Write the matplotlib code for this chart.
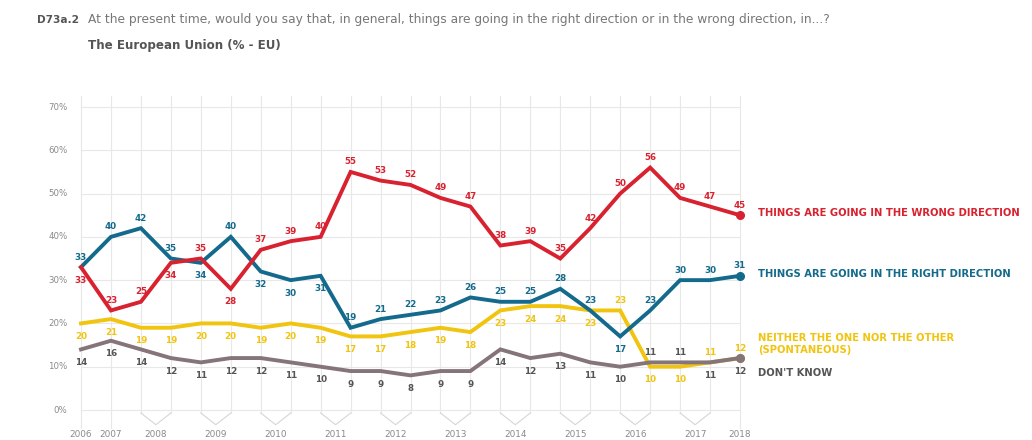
import matplotlib
matplotlib.use("Agg")
import matplotlib.pyplot as plt

# ---------------- data ----------------
years = ["2006", "2007", "2008", "2009", "2010", "2011", "2012",
         "2013", "2014", "2015", "2016", "2017", "2018"]
# survey waves (two per year from 2008 to 2017)
wrong = [33, 23, 25, 34, 35, 28, 37, 39, 40, 55, 53, 52, 49, 47, 38, 39, 35, 42, 50, 56, 49, 47, 45]
right = [33, 40, 42, 35, 34, 40, 32, 30, 31, 19, 21, 22, 23, 26, 25, 25, 28, 23, 17, 23, 30, 30, 31]
neither = [20, 21, 19, 19, 20, 20, 19, 20, 19, 17, 17, 18, 19, 18, 23, 24, 24, 23, 23, 10, 10, 11, 12]
dontknow = [14, 16, 14, 12, 11, 12, 12, 11, 10, 9, 9, 8, 9, 9, 14, 12, 13, 11, 10, 11, 11, 11, 12]

# label positions: 1 = above, -1 = below
wrong_pos = [-1, 1, 1, -1, 1, -1] + [1] * 17
right_pos = [1, 1, 1, 1, -1, 1, -1, -1, -1] + [1] * 9 + [-1] + [1] * 4
neither_pos = [-1] * 18 + [1, -1, -1, 1, 1]
dontknow_pos = [-1] * 19 + [1, 1, -1, -1]

series_names = ["THINGS ARE GOING IN THE WRONG DIRECTION",
                "THINGS ARE GOING IN THE RIGHT DIRECTION",
                "NEITHER THE ONE NOR THE OTHER\n(SPONTANEOUS)",
                "DON'T KNOW"]
yticks = [0, 10, 20, 30, 40, 50, 60, 70]

RED = "#d8222f"
BLUE = "#136a8c"
YEL = "#f1c40f"
GREY = "#857479"
GREYTXT = "#555555"

W, H = 1032, 440
fig = plt.figure(figsize=(W / 100, H / 100), dpi=100)
fig.patch.set_facecolor("white")

x0px, x1px = 81, 740
y0px, y1px = 410, 107
ax = fig.add_axes([x0px / W, (H - y0px) / H, (x1px - x0px) / W, (y0px - y1px) / H])
n = len(wrong)
xs = list(range(n))
ax.set_xlim(0, n - 1)
ax.set_ylim(0, 70)
for s in ax.spines.values():
    s.set_visible(False)
ax.set_xticks([])
ax.set_yticks([])

GRID = "#e8e8e8"
# horizontal gridlines
for t in yticks:
    ax.plot([0, n - 1], [t, t], color=GRID, lw=0.8, zorder=0, clip_on=False)
    ax.text(-0.45, t, f"{t}%", ha="right", va="center", fontsize=6.2, color="#8a8a8a")

# vertical gridlines
for i in xs:
    bottom = -4.2 if i in (0, 1, n - 1) else -0.7
    ax.plot([i, i], [bottom, 72.5], color=GRID, lw=0.8, zorder=0, clip_on=False)

# V brackets + year labels
year_x = [0, 1]
for k in range(10):
    a = 2 + 2 * k
    ax.plot([a, a + 0.5, a + 1], [-0.7, -3.4, -0.7], color="#d6d6d6", lw=0.8, clip_on=False, zorder=0)
    year_x.append(a + 0.5)
year_x.append(n - 1)
for xv, lab in zip(year_x, years):
    ax.text(xv, -5.7, lab, ha="center", va="center", fontsize=6.4, color="#8a8a8a")

# lines
def draw(vals, color, z):
    ax.plot(xs, vals, color=color, lw=2.8, solid_joinstyle="miter", zorder=z, clip_on=False)
    ax.plot([xs[-1]], [vals[-1]], "o", color=color, ms=5.5, zorder=z, clip_on=False)

draw(neither, YEL, 3)
draw(dontknow, GREY, 4)
draw(right, BLUE, 5)
draw(wrong, RED, 6)

def labels(vals, pos, color):
    for i, (v, p) in enumerate(zip(vals, pos)):
        dy = 10 if p > 0 else -13
        ax.annotate(str(v), (i, v), xytext=(0, dy), textcoords="offset pixels",
                    ha="center", va="center", fontsize=6.3, fontweight="bold",
                    color=color, zorder=10, annotation_clip=False)

labels(wrong, wrong_pos, RED)
labels(right, right_pos, BLUE)
labels(neither, neither_pos, YEL)
labels(dontknow, dontknow_pos, GREYTXT)

# right-side series names
kw = dict(ha="left", va="center", fontsize=7.2, fontweight="bold")
fig.text(758 / W, 1 - 213 / H, series_names[0], color=RED, **kw)
fig.text(758 / W, 1 - 274 / H, series_names[1], color=BLUE, **kw)
fig.text(758 / W, 1 - 344 / H, series_names[2], color=YEL, linespacing=1.3, **kw)
fig.text(758 / W, 1 - 373 / H, series_names[3], color=GREYTXT, **kw)

# titles
fig.text(37 / W, 1 - 20 / H, "D73a.2", ha="left", va="center", fontsize=7.6,
         fontweight="bold", color="#555555")
fig.text(88 / W, 1 - 20 / H,
         "At the present time, would you say that, in general, things are going in the right direction or in the wrong direction, in...?",
         ha="left", va="center", fontsize=8.8, color="#777777")
fig.text(88 / W, 1 - 46 / H, "The European Union (% - EU)", ha="left", va="center",
         fontsize=8.6, fontweight="bold", color="#555555")

fig.savefig("out.png", dpi=100, facecolor="white")
